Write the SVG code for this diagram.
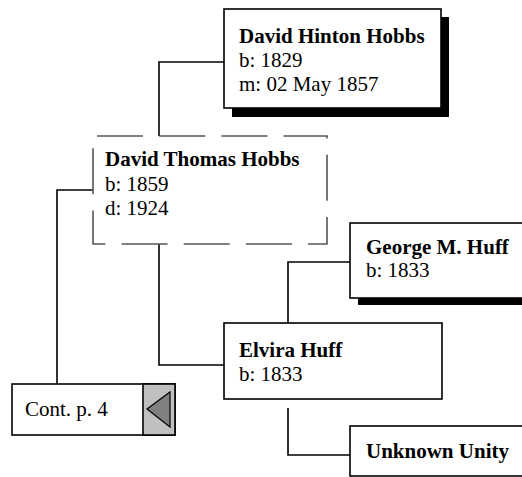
<svg xmlns="http://www.w3.org/2000/svg" width="522" height="477" viewBox="0 0 522 477">
<style>
.box{fill:#fff;stroke:#000;stroke-width:1.6}
.sh{fill:#000}
.dash{fill:#fff;stroke:#555;stroke-width:1.6;stroke-dasharray:46 16.18;stroke-dashoffset:58.18}
.con{fill:none;stroke:#000;stroke-width:1.6}
text{font-family:"Liberation Serif","Times New Roman",serif;font-size:21px;fill:#000}
.b{font-weight:bold}
</style>
<rect x="0" y="0" width="522" height="477" fill="#fff"/>
<g id="connectors">
<polyline class="con" points="224,62 159,62 159,136"/>
<polyline class="con" points="93,190 57,190 57,384"/>
<polyline class="con" points="159,244 159,365 224,365"/>
<polyline class="con" points="288,323 288,262 350,262"/>
<polyline class="con" points="288,408 288,455 350,455"/>
</g>
<g id="david-hinton-hobbs">
<rect class="sh" x="232" y="17" width="217" height="100"/>
<rect class="box" x="224" y="9" width="217" height="99"/>
<text class="b" x="239" y="43">David Hinton Hobbs</text>
<text x="239" y="67">b: 1829</text>
<text x="239" y="90.5">m: 02 May 1857</text>
</g>
<g id="david-thomas-hobbs">
<rect class="dash" x="93" y="136" width="234" height="108"/>
<text class="b" x="105" y="166">David Thomas Hobbs</text>
<text x="105" y="191">b: 1859</text>
<text x="105" y="215">d: 1924</text>
</g>
<g id="george-m-huff">
<rect class="sh" x="358" y="230" width="180" height="75"/>
<rect class="box" x="350" y="223" width="180" height="75"/>
<text class="b" x="366" y="254">George M. Huff</text>
<text x="366" y="277">b: 1833</text>
</g>
<g id="elvira-huff">
<rect class="box" x="224" y="323" width="218" height="76"/>
<text class="b" x="239" y="357">Elvira Huff</text>
<text x="239" y="381">b: 1833</text>
</g>
<g id="unknown-unity">
<rect class="box" x="350" y="426" width="180" height="50"/>
<text class="b" x="366" y="458">Unknown Unity</text>
</g>
<g id="cont-p-4">
<rect class="box" x="12" y="384" width="163" height="51"/>
<rect x="143" y="384" width="32" height="51" fill="#c0c0c0" stroke="#000" stroke-width="1.6"/>
<polygon points="147,409 170,392 170,427" fill="#808080" stroke="#000" stroke-width="1.2"/>
<text x="25" y="416">Cont. p. 4</text>
</g>
</svg>
